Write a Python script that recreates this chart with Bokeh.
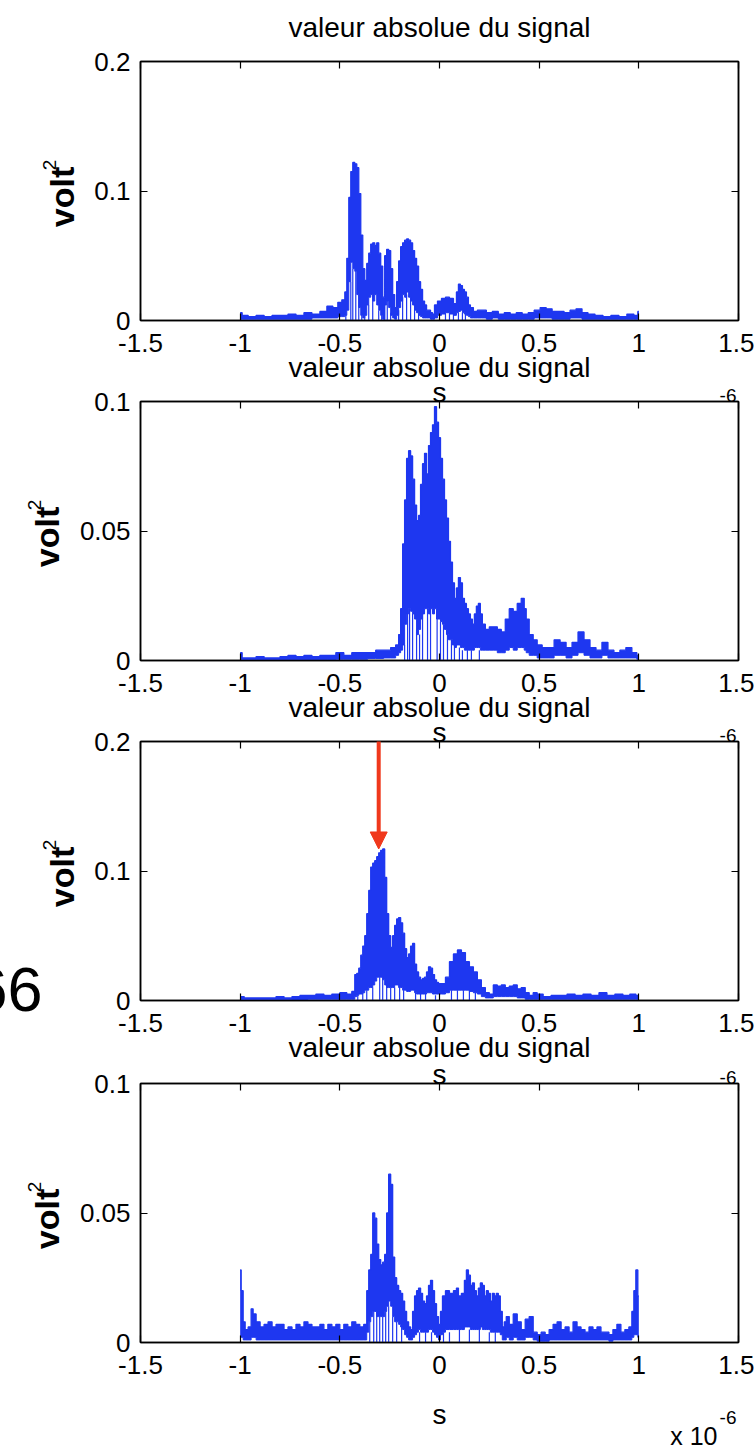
import math
from bokeh.plotting import figure
from bokeh.models import (Range1d, LinearAxis, FixedTicker, Arrow, NormalHead,
                          CustomJSTickFormatter, ColumnDataSource)
from bokeh.core.properties import value
from bokeh.layouts import column
from bokeh.embed import file_html
from bokeh.resources import INLINE

# ---------------- data (x in 1e-6 s, values in volt^2) ----------------
X_TICKS = [-1.5, -1, -0.5, 0, 0.5, 1, 1.5]
Y_TICKS_A = [0, 0.1, 0.2]
Y_TICKS_B = [0, 0.05, 0.1]
TITLE = "valeur absolue du signal"
XLABEL = "s"
YLABEL = "volt"
YLABEL_SUP = "2"
X_EXP = "-6"
X_MULT = "x 10"
SIDE_NOTE = "66"

# panel 1 : upper / lower envelope of the signal
p1_x = [-1.00, -0.98, -0.94, -0.90, -0.86, -0.82, -0.78, -0.74, -0.70, -0.66,
        -0.62, -0.58, -0.55, -0.52, -0.50, -0.48, -0.47, -0.46, -0.45, -0.44,
        -0.43, -0.42, -0.41, -0.40, -0.39, -0.38, -0.37, -0.36, -0.35, -0.34,
        -0.33, -0.32, -0.31, -0.30, -0.29, -0.28, -0.27, -0.26, -0.25, -0.24,
        -0.23, -0.22, -0.21, -0.20, -0.19, -0.18, -0.17, -0.16, -0.15, -0.14,
        -0.13, -0.12, -0.11, -0.10, -0.09, -0.08, -0.07, -0.06, -0.05, -0.04,
        -0.03, -0.02, 0.00, 0.02, 0.04, 0.06, 0.08, 0.09, 0.10, 0.11,
        0.12, 0.13, 0.14, 0.15, 0.16, 0.18, 0.20, 0.22, 0.25, 0.28,
        0.31, 0.34, 0.37, 0.40, 0.43, 0.46, 0.49, 0.52, 0.55, 0.58,
        0.61, 0.64, 0.67, 0.70, 0.73, 0.76, 0.80, 0.84, 0.88, 0.92,
        0.96, 0.99, 1.00]
p1_hi = [0.006, 0.004, 0.003, 0.004, 0.003, 0.004, 0.004, 0.005, 0.004, 0.006,
         0.005, 0.007, 0.011, 0.010, 0.014, 0.016, 0.022, 0.048, 0.095, 0.115,
         0.122, 0.121, 0.118, 0.098, 0.066, 0.040, 0.031, 0.044, 0.052, 0.059,
         0.060, 0.058, 0.060, 0.052, 0.042, 0.018, 0.050, 0.055, 0.054, 0.040,
         0.020, 0.010, 0.030, 0.046, 0.057, 0.060, 0.062, 0.063, 0.062, 0.060,
         0.054, 0.048, 0.042, 0.030, 0.024, 0.015, 0.012, 0.008, 0.008, 0.006,
         0.005, 0.012, 0.015, 0.017, 0.018, 0.017, 0.013, 0.022, 0.028, 0.027,
         0.024, 0.022, 0.018, 0.012, 0.010, 0.007, 0.008, 0.008, 0.006, 0.007,
         0.005, 0.006, 0.005, 0.006, 0.005, 0.006, 0.008, 0.010, 0.009, 0.007,
         0.007, 0.006, 0.008, 0.009, 0.006, 0.005, 0.004, 0.003, 0.004, 0.003,
         0.005, 0.004, 0.007]
p1_lo = [0.001, 0.001, 0.001, 0.001, 0.001, 0.001, 0.001, 0.001, 0.001, 0.001,
         0.002, 0.002, 0.002, 0.002, 0.003, 0.003, 0.004, 0.008, 0.030, 0.045,
         0.040, 0.038, 0.020, 0.010, 0.004, 0.002, 0.004, 0.012, 0.018, 0.020,
         0.015, 0.020, 0.012, 0.008, 0.004, 0.001, 0.012, 0.015, 0.010, 0.004,
         0.002, 0.001, 0.004, 0.010, 0.015, 0.020, 0.018, 0.022, 0.018, 0.015,
         0.012, 0.008, 0.006, 0.004, 0.003, 0.002, 0.002, 0.002, 0.002, 0.001,
         0.001, 0.002, 0.004, 0.005, 0.006, 0.005, 0.004, 0.006, 0.007, 0.008,
         0.006, 0.005, 0.004, 0.003, 0.002, 0.002, 0.002, 0.002, 0.001, 0.002,
         0.001, 0.001, 0.001, 0.001, 0.001, 0.001, 0.002, 0.002, 0.002, 0.001,
         0.001, 0.001, 0.002, 0.002, 0.001, 0.001, 0.001, 0.001, 0.001, 0.001,
         0.001, 0.001, 0.001]
p1_dip_x = [-0.47, -0.445, -0.435, -0.42, -0.405, -0.39, -0.375, -0.355, -0.335, -0.305,
            -0.29, -0.275, -0.262, -0.245, -0.205, -0.185, -0.165, -0.145, -0.125, -0.105,
            0.03, 0.05, 0.07, 0.095, 0.115, 0.13]
p1_dip_top = [0.004, 0.03, 0.04, 0.038, 0.02, 0.006, 0.004, 0.012, 0.02, 0.008,
              0.004, 0.012, 0.015, 0.006, 0.008, 0.018, 0.02, 0.018, 0.012, 0.005,
              0.005, 0.005, 0.005, 0.006, 0.006, 0.005]

# panel 2
p2_x = [-1.00, -0.98, -0.94, -0.90, -0.86, -0.82, -0.78, -0.74, -0.70, -0.66,
        -0.62, -0.58, -0.54, -0.50, -0.46, -0.42, -0.38, -0.34, -0.30, -0.26,
        -0.23, -0.21, -0.20, -0.19, -0.18, -0.17, -0.16, -0.15, -0.14, -0.13,
        -0.12, -0.11, -0.10, -0.09, -0.08, -0.07, -0.06, -0.05, -0.04, -0.03,
        -0.02, -0.01, 0.00, 0.01, 0.02, 0.03, 0.04, 0.05, 0.06, 0.07,
        0.08, 0.09, 0.10, 0.11, 0.12, 0.13, 0.14, 0.15, 0.16, 0.17,
        0.18, 0.19, 0.20, 0.21, 0.22, 0.24, 0.26, 0.28, 0.30, 0.32,
        0.34, 0.36, 0.38, 0.40, 0.42, 0.43, 0.44, 0.46, 0.48, 0.50,
        0.53, 0.56, 0.59, 0.62, 0.65, 0.68, 0.71, 0.74, 0.77, 0.80,
        0.83, 0.86, 0.89, 0.92, 0.95, 0.98, 1.00]
p2_hi = [0.003, 0.001, 0.001, 0.0015, 0.001, 0.001, 0.0015, 0.002, 0.0015, 0.002,
         0.0015, 0.002, 0.002, 0.003, 0.002, 0.003, 0.003, 0.003, 0.004, 0.004,
         0.005, 0.006, 0.010, 0.020, 0.045, 0.062, 0.078, 0.081, 0.079, 0.070,
         0.060, 0.054, 0.056, 0.068, 0.076, 0.080, 0.072, 0.083, 0.088, 0.091,
         0.098, 0.092, 0.086, 0.078, 0.070, 0.062, 0.055, 0.046, 0.038, 0.030,
         0.024, 0.028, 0.032, 0.030, 0.024, 0.022, 0.020, 0.018, 0.016, 0.014,
         0.018, 0.021, 0.022, 0.018, 0.014, 0.012, 0.013, 0.013, 0.012, 0.011,
         0.016, 0.020, 0.019, 0.022, 0.024, 0.020, 0.016, 0.010, 0.008, 0.006,
         0.005, 0.005, 0.008, 0.007, 0.005, 0.007, 0.011, 0.008, 0.005, 0.004,
         0.007, 0.004, 0.003, 0.004, 0.005, 0.003, 0.002]
p2_lo = [0.0003, 0.0003, 0.0003, 0.0003, 0.0003, 0.0003, 0.0003, 0.0003, 0.0003, 0.0003,
         0.0003, 0.0003, 0.0003, 0.0005, 0.0005, 0.0005, 0.0005, 0.0008, 0.0008, 0.001,
         0.001, 0.002, 0.003, 0.004, 0.006, 0.014, 0.018, 0.020, 0.019, 0.018,
         0.016, 0.010, 0.012, 0.016, 0.018, 0.020, 0.020, 0.018, 0.020, 0.018,
         0.020, 0.016, 0.016, 0.015, 0.014, 0.012, 0.010, 0.008, 0.008, 0.006,
         0.005, 0.006, 0.006, 0.005, 0.005, 0.004, 0.004, 0.004, 0.004, 0.004,
         0.005, 0.005, 0.005, 0.004, 0.004, 0.004, 0.004, 0.004, 0.003, 0.003,
         0.004, 0.005, 0.004, 0.005, 0.005, 0.004, 0.003, 0.002, 0.002, 0.001,
         0.001, 0.001, 0.002, 0.002, 0.001, 0.002, 0.003, 0.002, 0.001, 0.001,
         0.002, 0.001, 0.001, 0.001, 0.001, 0.001, 0.0005]
p2_dip_x = [-0.175, -0.16, -0.15, -0.135, -0.115, -0.10, -0.085, -0.06, -0.045, -0.012,
            0.005, 0.02, 0.04, 0.06, 0.075, 0.10, 0.115, 0.14, 0.16, 0.20]
p2_dip_top = [0.006, 0.018, 0.02, 0.018, 0.012, 0.01, 0.018, 0.02, 0.02, 0.016,
              0.015, 0.014, 0.012, 0.008, 0.007, 0.005, 0.004, 0.004, 0.004, 0.004]

# panel 3
p3_x = [-1.00, -0.96, -0.92, -0.88, -0.84, -0.80, -0.76, -0.72, -0.68, -0.64,
        -0.60, -0.56, -0.52, -0.48, -0.45, -0.43, -0.42, -0.41, -0.40, -0.39,
        -0.38, -0.37, -0.36, -0.35, -0.34, -0.33, -0.32, -0.31, -0.30, -0.29,
        -0.28, -0.27, -0.26, -0.25, -0.24, -0.23, -0.22, -0.21, -0.20, -0.19,
        -0.18, -0.17, -0.16, -0.15, -0.14, -0.13, -0.12, -0.11, -0.10, -0.09,
        -0.08, -0.07, -0.06, -0.05, -0.04, -0.03, -0.02, -0.01, 0.00, 0.02,
        0.04, 0.06, 0.08, 0.10, 0.12, 0.14, 0.16, 0.18, 0.20, 0.22,
        0.24, 0.26, 0.28, 0.30, 0.32, 0.34, 0.36, 0.38, 0.40, 0.42,
        0.44, 0.46, 0.48, 0.50, 0.54, 0.58, 0.62, 0.66, 0.70, 0.74,
        0.78, 0.82, 0.86, 0.90, 0.94, 0.97, 1.00]
p3_hi = [0.003, 0.002, 0.002, 0.002, 0.002, 0.003, 0.002, 0.003, 0.004, 0.004,
         0.005, 0.004, 0.005, 0.006, 0.005, 0.007, 0.020, 0.021, 0.025, 0.035,
         0.042, 0.050, 0.067, 0.085, 0.103, 0.106, 0.108, 0.111, 0.114, 0.116,
         0.117, 0.095, 0.067, 0.050, 0.041, 0.050, 0.058, 0.063, 0.064, 0.060,
         0.052, 0.040, 0.033, 0.036, 0.042, 0.044, 0.028, 0.022, 0.018, 0.016,
         0.017, 0.018, 0.022, 0.026, 0.025, 0.020, 0.016, 0.014, 0.013, 0.013,
         0.018, 0.030, 0.036, 0.039, 0.037, 0.030, 0.026, 0.022, 0.016, 0.010,
         0.006, 0.005, 0.012, 0.011, 0.012, 0.010, 0.011, 0.012, 0.009, 0.010,
         0.006, 0.004, 0.006, 0.005, 0.003, 0.004, 0.004, 0.005, 0.004, 0.005,
         0.004, 0.006, 0.004, 0.005, 0.004, 0.005, 0.004]
p3_lo = [0.0005, 0.0005, 0.0005, 0.0005, 0.0005, 0.0005, 0.0005, 0.0008, 0.0008, 0.001,
         0.001, 0.001, 0.001, 0.001, 0.001, 0.001, 0.003, 0.004, 0.005, 0.005,
         0.006, 0.008, 0.008, 0.010, 0.010, 0.012, 0.015, 0.018, 0.018, 0.018,
         0.016, 0.012, 0.010, 0.010, 0.010, 0.010, 0.012, 0.012, 0.010, 0.010,
         0.008, 0.008, 0.007, 0.007, 0.008, 0.008, 0.006, 0.005, 0.005, 0.005,
         0.005, 0.005, 0.006, 0.006, 0.006, 0.005, 0.005, 0.005, 0.005, 0.005,
         0.006, 0.008, 0.008, 0.008, 0.008, 0.008, 0.007, 0.006, 0.005, 0.003,
         0.002, 0.002, 0.003, 0.003, 0.003, 0.003, 0.003, 0.003, 0.002, 0.002,
         0.001, 0.001, 0.001, 0.001, 0.001, 0.001, 0.001, 0.001, 0.001, 0.001,
         0.001, 0.001, 0.001, 0.001, 0.001, 0.001, 0.001]
p3_dip_x = [-0.41, -0.385, -0.365, -0.335, -0.30, -0.285, -0.265, -0.245, -0.225, -0.20,
            -0.18, -0.12, -0.095, -0.07, -0.02, 0.06, 0.09, 0.12, 0.15, 0.18]
p3_dip_top = [0.004, 0.006, 0.008, 0.01, 0.018, 0.018, 0.012, 0.01, 0.01, 0.01,
              0.008, 0.006, 0.005, 0.005, 0.004, 0.008, 0.008, 0.008, 0.008, 0.006]
p3_peak_x = -0.305
p3_peak_y = 0.117

# panel 4
p4_x = [-1.00, -0.99, -0.98, -0.97, -0.95, -0.94, -0.93, -0.91, -0.89, -0.87,
        -0.85, -0.83, -0.81, -0.79, -0.77, -0.75, -0.73, -0.71, -0.69, -0.67,
        -0.65, -0.63, -0.61, -0.59, -0.57, -0.55, -0.53, -0.51, -0.49, -0.47,
        -0.45, -0.43, -0.41, -0.39, -0.37, -0.36, -0.35, -0.34, -0.33, -0.32,
        -0.31, -0.30, -0.29, -0.28, -0.27, -0.26, -0.25, -0.24, -0.23, -0.22,
        -0.21, -0.20, -0.19, -0.18, -0.17, -0.16, -0.15, -0.14, -0.13, -0.12,
        -0.11, -0.10, -0.09, -0.08, -0.07, -0.06, -0.05, -0.04, -0.03, -0.02,
        -0.01, 0.00, 0.01, 0.02, 0.04, 0.06, 0.08, 0.09, 0.10, 0.12,
        0.13, 0.14, 0.15, 0.16, 0.17, 0.18, 0.19, 0.20, 0.21, 0.22,
        0.23, 0.24, 0.25, 0.26, 0.27, 0.28, 0.29, 0.30, 0.31, 0.32,
        0.33, 0.34, 0.36, 0.38, 0.40, 0.42, 0.44, 0.46, 0.48, 0.50,
        0.52, 0.54, 0.56, 0.58, 0.60, 0.62, 0.64, 0.66, 0.68, 0.70,
        0.72, 0.74, 0.76, 0.78, 0.80, 0.82, 0.84, 0.86, 0.88, 0.90,
        0.92, 0.94, 0.96, 0.97, 0.98, 0.99, 1.00]
p4_hi = [0.028, 0.020, 0.008, 0.005, 0.006, 0.013, 0.011, 0.008, 0.006, 0.007,
         0.008, 0.006, 0.007, 0.007, 0.005, 0.006, 0.005, 0.007, 0.006, 0.008,
         0.007, 0.006, 0.006, 0.007, 0.005, 0.007, 0.006, 0.007, 0.005, 0.007,
         0.006, 0.008, 0.007, 0.006, 0.007, 0.020, 0.028, 0.034, 0.050, 0.048,
         0.038, 0.032, 0.030, 0.031, 0.034, 0.050, 0.065, 0.061, 0.033, 0.025,
         0.022, 0.020, 0.019, 0.016, 0.012, 0.008, 0.006, 0.005, 0.012, 0.018,
         0.020, 0.021, 0.019, 0.016, 0.015, 0.018, 0.022, 0.024, 0.020, 0.015,
         0.010, 0.007, 0.012, 0.018, 0.020, 0.019, 0.020, 0.021, 0.018, 0.019,
         0.024, 0.028, 0.026, 0.022, 0.023, 0.020, 0.018, 0.021, 0.023, 0.022,
         0.018, 0.020, 0.019, 0.016, 0.019, 0.018, 0.019, 0.018, 0.012, 0.006,
         0.008, 0.010, 0.007, 0.011, 0.008, 0.005, 0.009, 0.010, 0.004, 0.003,
         0.004, 0.003, 0.005, 0.007, 0.008, 0.005, 0.006, 0.004, 0.008, 0.006,
         0.005, 0.004, 0.006, 0.005, 0.006, 0.004, 0.004, 0.003, 0.005, 0.007,
         0.004, 0.005, 0.006, 0.012, 0.020, 0.028, 0.018]
p4_lo = [0.002, 0.002, 0.001, 0.001, 0.001, 0.002, 0.002, 0.001, 0.001, 0.001,
         0.001, 0.001, 0.001, 0.001, 0.001, 0.001, 0.001, 0.001, 0.001, 0.001,
         0.001, 0.001, 0.001, 0.001, 0.001, 0.001, 0.001, 0.001, 0.001, 0.001,
         0.001, 0.001, 0.001, 0.001, 0.001, 0.004, 0.008, 0.010, 0.012, 0.012,
         0.010, 0.010, 0.010, 0.010, 0.012, 0.014, 0.016, 0.014, 0.010, 0.008,
         0.008, 0.007, 0.006, 0.005, 0.003, 0.002, 0.001, 0.001, 0.002, 0.003,
         0.004, 0.005, 0.004, 0.004, 0.004, 0.004, 0.005, 0.005, 0.004, 0.003,
         0.002, 0.001, 0.003, 0.004, 0.005, 0.005, 0.005, 0.005, 0.005, 0.005,
         0.006, 0.006, 0.006, 0.005, 0.005, 0.005, 0.005, 0.005, 0.006, 0.005,
         0.005, 0.005, 0.005, 0.004, 0.004, 0.004, 0.004, 0.004, 0.003, 0.001,
         0.001, 0.002, 0.001, 0.002, 0.001, 0.001, 0.002, 0.002, 0.001, 0.0005,
         0.0005, 0.0005, 0.001, 0.001, 0.001, 0.001, 0.001, 0.001, 0.001, 0.001,
         0.001, 0.001, 0.001, 0.001, 0.001, 0.001, 0.001, 0.0005, 0.001, 0.001,
         0.001, 0.001, 0.001, 0.002, 0.003, 0.003, 0.002]
p4_dip_x = [-0.35, -0.33, -0.315, -0.30, -0.285, -0.27, -0.255, -0.235, -0.215, -0.19,
            -0.10, -0.07, -0.04, 0.02, 0.05, 0.10, 0.15, 0.20, 0.25, 0.28]
p4_dip_top = [0.008, 0.012, 0.012, 0.01, 0.01, 0.012, 0.014, 0.01, 0.008, 0.006,
              0.004, 0.004, 0.004, 0.004, 0.004, 0.005, 0.005, 0.005, 0.004, 0.004]

# ---------------- style / layout ----------------
BLUE = "#1e37f0"
RED = "#f0381c"
FONT = "Liberation Sans"
FRAME_W = 598
FRAME_H = 259
LEFT_B = 140
RIGHT_B = 16
WIDTH = LEFT_B + FRAME_W + RIGHT_B          # 754
PAGE_TOP = [0, 386, 726, 1066]
TOP_B = [61, 15, 15, 17]
BOT_B = [66, 66, 66, 104]                   # total height 1446
BASE_FIX = 0.33                             # baseline correction, fraction of font size

panels = [
    dict(x=p1_x, hi=p1_hi, lo=p1_lo, dx=p1_dip_x, dt=p1_dip_top, ymax=0.2, yt=Y_TICKS_A, wide=False),
    dict(x=p2_x, hi=p2_hi, lo=p2_lo, dx=p2_dip_x, dt=p2_dip_top, ymax=0.1, yt=Y_TICKS_B, wide=True),
    dict(x=p3_x, hi=p3_hi, lo=p3_lo, dx=p3_dip_x, dt=p3_dip_top, ymax=0.2, yt=Y_TICKS_A, wide=False),
    dict(x=p4_x, hi=p4_hi, lo=p4_lo, dx=p4_dip_x, dt=p4_dip_top, ymax=0.1, yt=Y_TICKS_B, wide=True),
]
for pan in panels:
    assert len(pan["x"]) == len(pan["hi"]) == len(pan["lo"])
    assert len(pan["dx"]) == len(pan["dt"])


def style_axis(ax, ticks, labelled, is_x):
    ax.ticker = FixedTicker(ticks=ticks, minor_ticks=[])
    ax.major_tick_in = 7
    ax.major_tick_out = 0
    ax.minor_tick_line_color = None
    ax.axis_line_color = "black"
    ax.axis_line_width = 1.5
    ax.major_tick_line_color = "black"
    ax.major_tick_line_width = 1.2
    if labelled:
        ax.formatter = CustomJSTickFormatter(code="return String(tick);")
        ax.major_label_text_font = FONT
        ax.major_label_text_font_size = "26px"
        ax.major_label_text_color = "black"
        ax.major_label_standoff = 13 if is_x else 10
    else:
        ax.major_label_text_color = None
        ax.major_label_text_font_size = "1px"
        ax.major_label_standoff = 0


figs = []
for i, pan in enumerate(panels):
    h = TOP_B[i] + FRAME_H + BOT_B[i]
    ymax = pan["ymax"]
    p = figure(width=WIDTH, height=h, title=None,
               x_range=Range1d(-1.5, 1.5), y_range=Range1d(0, ymax),
               output_backend="svg", toolbar_location=None,
               min_border_left=LEFT_B, min_border_right=RIGHT_B,
               min_border_top=TOP_B[i], min_border_bottom=BOT_B[i])
    p.xgrid.visible = False
    p.ygrid.visible = False
    p.background_fill_color = "white"
    p.border_fill_color = "white"
    p.outline_line_color = "black"
    p.outline_line_width = 1.5
    style_axis(p.xaxis[0], X_TICKS, True, True)
    style_axis(p.yaxis[0], pan["yt"], True, False)
    top_ax = LinearAxis()
    style_axis(top_ax, X_TICKS, False, True)
    p.add_layout(top_ax, "above")
    right_ax = LinearAxis()
    style_axis(right_ax, pan["yt"], False, False)
    p.add_layout(right_ax, "right")

    # signal: filled envelope + contours + the dips to zero
    src = ColumnDataSource(dict(x=pan["x"], hi=pan["hi"], lo=pan["lo"]))
    if hasattr(p, "varea_step"):
        p.varea_step(x="x", y1="lo", y2="hi", step_mode="center", source=src,
                     fill_color=BLUE, fill_alpha=1.0)
    else:
        p.varea(x="x", y1="lo", y2="hi", source=src, fill_color=BLUE)
    p.step(x="x", y="hi", mode="center", source=src, line_color=BLUE, line_width=1.3)
    p.step(x="x", y="lo", mode="center", source=src, line_color=BLUE, line_width=1.0)
    p.segment(x0=pan["dx"], y0=[0] * len(pan["dx"]), x1=pan["dx"], y1=pan["dt"],
              line_color=BLUE, line_width=1.2)

    frame_top = PAGE_TOP[i] + TOP_B[i]
    frame_bottom = frame_top + FRAME_H
    frame_mid = frame_top + FRAME_H / 2.0

    def txt(px, py, s, size, align="center", rotated=False, style="normal",
            fig=p, ft=frame_top, ym=ymax):
        # px, py: wanted baseline anchor position on the page
        fix = BASE_FIX * size
        if rotated:
            px -= fix
        else:
            py -= fix
        x = -1.5 + (px - LEFT_B) * 3.0 / FRAME_W
        y = ym * (ft + FRAME_H - py) / FRAME_H
        fig.text(x=[x], y=[y], text=[s], text_font=value(FONT),
                 text_font_size=value("%dpx" % size), text_font_style=value(style),
                 text_align=value(align), text_baseline=value("alphabetic"),
                 angle=(math.pi / 2 if rotated else 0.0), text_color=value("black"),
                 level="overlay")

    # own title (first panel) / title of the next panel (drawn in this canvas)
    if i == 0:
        txt(439, frame_top - 25, TITLE, 28)
    if i < 3:
        txt(439, frame_bottom + 56, TITLE, 28)
    # y label "volt" with its superscript
    vb = 58 if pan["wide"] else 73
    txt(vb, frame_mid + 6, YLABEL, 34, rotated=True, style="bold")
    txt(vb - 18, frame_mid - 26, YLABEL_SUP, 19, rotated=True)
    # x label + exponent of the panel above, just over this frame
    if i > 0:
        txt(439, frame_top, XLABEL, 28)
        txt(736, frame_top, X_EXP, 19, align="right")
    if i == 3:
        txt(439, frame_bottom + 81, XLABEL, 28)
        txt(736, frame_bottom + 81, X_EXP, 19, align="right")
        txt(717, frame_bottom + 102, X_MULT, 25, align="right")
    if i == 2:
        txt(42, 1010, SIDE_NOTE, 63, align="right")
        p.add_layout(Arrow(end=NormalHead(size=17, fill_color=RED, line_color=RED),
                           x_start=p3_peak_x, y_start=ymax * (FRAME_H + 3) / FRAME_H,
                           x_end=p3_peak_x, y_end=p3_peak_y,
                           line_color=RED, line_width=4))
    figs.append(p)

layout = column(*figs, spacing=0)
open("out.html", "w").write(file_html(layout, INLINE))
